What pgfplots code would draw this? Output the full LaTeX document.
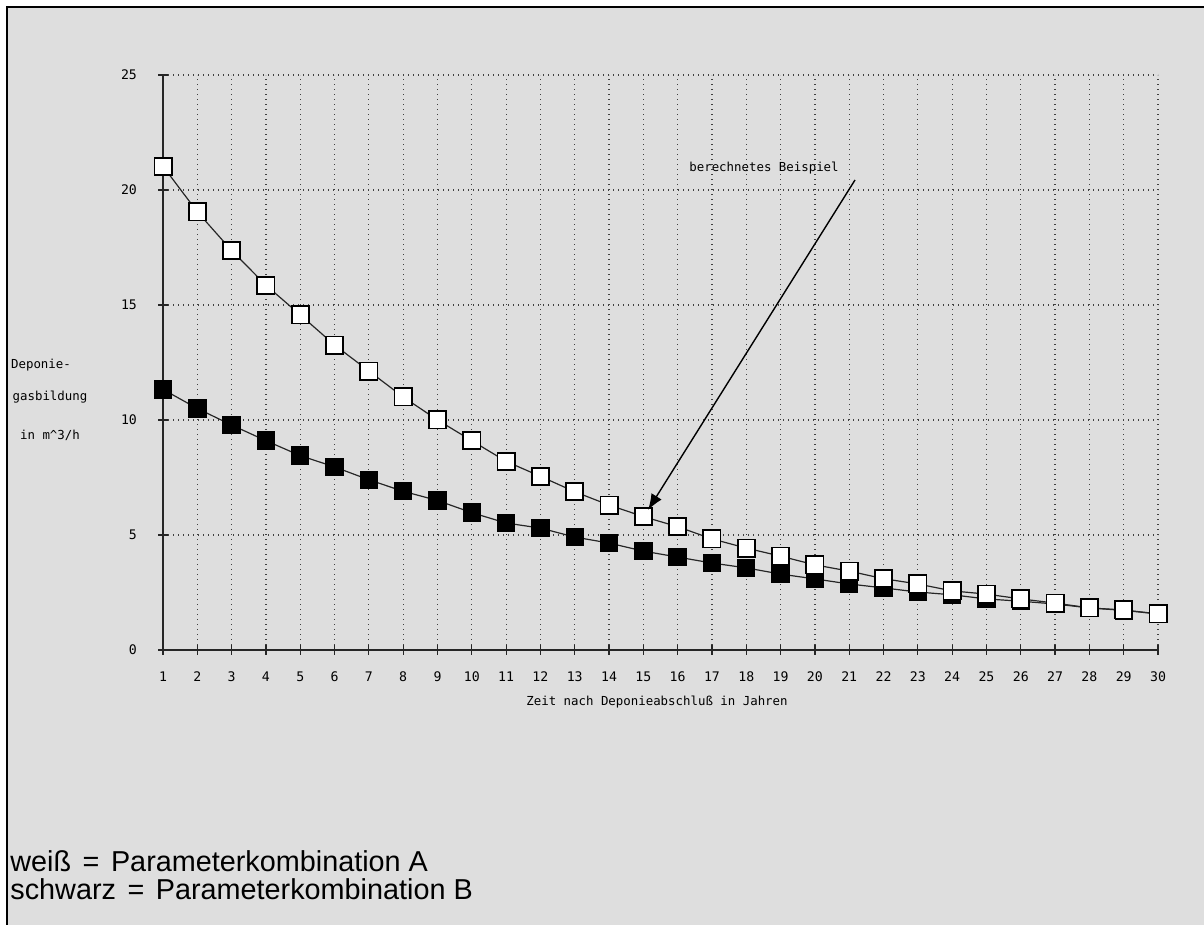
\documentclass[border=0pt]{standalone}
\usepackage{pgfplots}
\pgfplotsset{compat=1.18}
\usepackage{pgfplotstable}
\usepackage{fontspec}
\setmainfont{Liberation Sans}
\newfontfamily\plotfont{DejaVu Sans Mono}
\usetikzlibrary{arrows.meta}
\definecolor{paper}{RGB}{222,222,222}

\pgfplotstableread{
x a
1 21.03
2 19.05
3 17.37
4 15.86
5 14.57
6 13.26
7 12.13
8 11.00
9 10.00
10 9.10
11 8.20
12 7.55
13 6.88
14 6.30
15 5.80
16 5.36
17 4.83
18 4.43
19 4.08
20 3.70
21 3.43
22 3.10
23 2.87
24 2.57
25 2.43
26 2.22
27 2.04
28 1.83
29 1.74
30 1.57
}\dataA

\pgfplotstableread{
x b
1 11.33
2 10.50
3 9.78
4 9.10
5 8.45
6 7.96
7 7.40
8 6.90
9 6.50
10 5.97
11 5.52
12 5.30
13 4.91
14 4.65
15 4.30
16 4.04
17 3.78
18 3.57
19 3.30
20 3.09
21 2.87
22 2.70
23 2.52
24 2.40
25 2.22
26 2.12
27 2.00
28 1.83
29 1.72
30 1.57
}\dataB

\begin{document}
\begin{tikzpicture}[x=0.5pt,y=0.5pt]
\path[use as bounding box] (0,0) rectangle (1204,925);
\fill[white] (0,0) rectangle (1204,925);
\fill[paper] (7,0) rectangle (1204,918);
\draw[line width=1.4pt] (7,0) -- (7,918) -- (1204,918);

\begin{axis}[
  at={(81.5pt,137.5pt)}, anchor=south west,
  scale only axis, width=497.5pt, height=287.5pt,
  xmin=1, xmax=30, ymin=0, ymax=25,
  axis x line=bottom, axis y line=left,
  axis line style={-, line width=0.8pt, black!85},
  every outer x axis line/.append style={-},
  every outer y axis line/.append style={-},
  xtick={1,...,30}, ytick={0,5,...,25},
  tick align=center, major tick length=5pt,
  tick style={black!85, line width=0.6pt},
  grid=major,
  grid style={black!75, line width=0.6pt, dash pattern=on 0.6pt off 1.9pt},
  /pgf/number format/assume math mode=true,
  tick label style={font=\plotfont\fontsize{6.6}{7}\selectfont},
  xticklabel style={yshift=-5pt},
  yticklabel style={xshift=-7pt},
  clip=false,
]
\addplot[black!85, line width=0.6pt, mark=square*, mark size=4.3pt,
  mark options={fill=black, draw=black, line width=0.6pt}] table[x=x,y=b] {\dataB};
\addplot[black!85, line width=0.6pt, mark=square*, mark size=4.3pt,
  mark options={fill=white, draw=black, line width=0.9pt}] table[x=x,y=a] {\dataA};
\end{axis}

\draw[line width=0.7pt, -{Latex[length=8pt,width=6pt]}] (855,745) -- (648,415);
\node[font=\plotfont\fontsize{6.2}{7}\selectfont] at (764,757) {berechnetes Beispiel};
\node[font=\plotfont\fontsize{6.2}{7}\selectfont] at (657,223) {Zeit nach Deponieabschluß in Jahren};
\node[font=\plotfont\fontsize{6.2}{7}\selectfont] at (41,560) {Deponie-};
\node[font=\plotfont\fontsize{6.2}{7}\selectfont] at (50,528) {gasbildung};
\node[font=\plotfont\fontsize{6.2}{7}\selectfont] at (50,490) {in m\textasciicircum 3/h};
\node[anchor=base west, inner sep=0pt, font=\fontsize{14.4}{15}\selectfont] at (10,53) {weiß\hspace{0.4em}=\hspace{0.4em}Parameterkombination A};
\node[anchor=base west, inner sep=0pt, font=\fontsize{14.4}{15}\selectfont] at (10,25) {schwarz\hspace{0.4em}=\hspace{0.4em}Parameterkombination B};
\end{tikzpicture}
\end{document}
